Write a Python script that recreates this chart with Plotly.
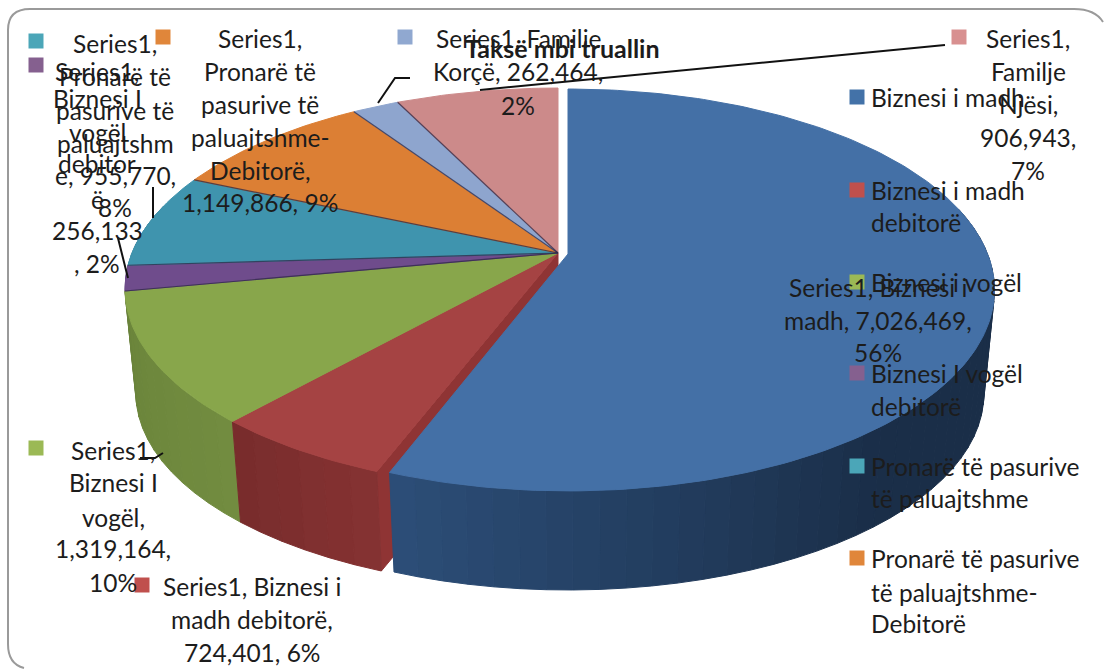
import math
import plotly.graph_objects as go

categories = ["Biznesi i madh", "Biznesi i madh debitorë", "Biznesi I vogël",
              "Biznesi I vogël debitorë", "Pronarë të pasurive të paluajtshme",
              "Pronarë të pasurive të paluajtshme-Debitorë", "Familje Korçë", "Familje Njësi"]
values = [7026469, 724401, 1319164, 256133, 955770, 1149866, 262464, 906943]
top_colors = ["#4470A6", "#A54343", "#88A64B", "#6F4C8C", "#3F94AE", "#DC7F34", "#8EA5CE", "#CC8A8A"]
wall_light = ["#2C4E78", "#853232", "#728C40", "#5A3C74", "#327A90", "#B8692A", "#7088AC", "#A87070"]
wall_dark = ["#1A2E48", "#782C2C", "#6A843A", "#5A3C74", "#327A90", "#B8692A", "#7088AC", "#A87070"]
key_colors = ["#4372A8", "#C0504D", "#9BB955", "#85608F", "#4BA6B8", "#E0863A", "#90A8D0", "#D89090"]

title_text = "Taksë mbi truallin"
TEXT = "#1C1C1C"
FONT = "Lato"
FS = 24.5

# centre x, line y positions, lines, key (x, y) or None, slice index for the key colour
data_labels = [
    (115, [43, 76, 110, 143, 175, 207], ["Series1,", "Pronarë të", "pasurive të", "paluajtshm", "e, 955,770,", "8%"], (36, 41), 4),
    (97, [71, 98, 132, 163, 199, 230, 263], ["Series1,", "Biznesi I", "vogël", "debitor", "ë", "256,133", ", 2%"], (36, 65), 3),
    (260, [38, 71, 104, 137, 170, 202], ["Series1,", "Pronarë të", "pasurive të", "paluajtshme-", "Debitorë,", "1,149,866, 9%"], (163, 37), 5),
    (518, [38, 71, 105], ["Series1, Familie", "Korçë, 262,464,", "2%"], (405, 37), 6),
    (1028, [38, 71, 104, 137, 170], ["Series1,", "Familje", "Njësi,", "906,943,", "7%"], (959, 37), 7),
    (878, [287, 320, 352], ["Series1, Biznesi i", "madh, 7,026,469,", "56%"], None, 0),
    (113, [450, 482, 517, 548, 582], ["Series1,", "Biznesi I", "vogël,", "1,319,164,", "10%"], (36, 448), 2),
    (252, [586, 619, 652], ["Series1, Biznesi i", "madh debitorë,", "724,401, 6%"], (142, 585), 1),
]
legend_entries = [
    (97, ["Biznesi i madh"], [97], 0),
    (190, ["Biznesi i madh", "debitorë"], [190, 222], 1),
    (282, ["Biznesi i vogël"], [282], 2),
    (373, ["Biznesi I vogël", "debitorë"], [373, 406], 3),
    (466, ["Pronarë të pasurive", "të paluajtshme"], [466, 498], 4),
    (558, ["Pronarë të pasurive", "të paluajtshme-", "Debitorë"], [558, 592, 623], 5),
]
leaders = [
    [(378, 103), (395, 78), (410, 78)],
    [(480, 90), (945, 45)],
    [(153, 187), (153, 218)],
    [(118, 238), (128, 278)],
    [(140, 458), (155, 458), (163, 453)],
]

# pie geometry in picture pixels (perspective-projected disc)
CX, CY = 558, 253
RX, RY, K = 426, 194.5, 0.179
DEPTH, SHRINK = 105, 0.975
BLUE_DX, BLUE_DY, BLUE_SX = 10, 1, 0.985


def pt(theta, level=0, sx=1.0, dx=0, dy=0):
    u, v = math.sin(theta), math.cos(theta)
    w = 1 + K * v
    x, y = sx * RX * u / w, -RY * v / w
    if level:
        x, y = x * SHRINK, y * SHRINK + DEPTH
    return CX + dx + x, CY + dy + y


def mix(a, b, t):
    ca = [int(a[i:i + 2], 16) for i in (1, 3, 5)]
    cb = [int(b[i:i + 2], 16) for i in (1, 3, 5)]
    return "#%02X%02X%02X" % tuple(round(p + (q - p) * t) for p, q in zip(ca, cb))


def poly(pts, color, name="", lw=1, linecolor=None):
    return go.Scatter(x=[p[0] for p in pts] + [pts[0][0]], y=[p[1] for p in pts] + [pts[0][1]],
                      mode="lines", fill="toself", fillcolor=color,
                      line=dict(color=linecolor or color, width=lw), name=name,
                      hoverinfo="name", showlegend=False)


total = sum(values)
edges = [0.0]
for v in values:
    edges.append(edges[-1] + v / total * 2 * math.pi)

fig = go.Figure()
offs = [(BLUE_SX, BLUE_DX, BLUE_DY) if i == 0 else (1.0, 0, 0) for i in range(len(values))]

# radial cut faces and outer walls, furthest slices first, blue last
for i in list(range(len(values) - 1, -1, -1)):
    a, b = edges[i], edges[i + 1]
    sx, dx, dy = offs[i]
    if i == 1:
        fig.add_trace(poly([(CX, CY), pt(a), pt(a, 1), (CX, CY + DEPTH)], "#8F3434", categories[i]))
    n = max(2, int((b - a) / math.radians(3)))
    for j in range(n):
        t0 = a + (b - a) * j / n
        t1 = a + (b - a) * (j + 1) / n
        mid = (t0 + t1) / 2
        if math.cos(mid) > 0.25:
            continue
        frac = (mid - a) / (b - a)
        if i == 0:
            col = mix(wall_dark[i], wall_light[i], max(0.0, (frac - 0.7) / 0.3))
        else:
            col = mix(wall_dark[i], wall_light[i], 1 - frac)
        fig.add_trace(poly([pt(t0, 0, sx, dx, dy), pt(t1, 0, sx, dx, dy),
                            pt(t1, 1, sx, dx, dy), pt(t0, 1, sx, dx, dy)], col, categories[i]))

# top faces, the pulled-out slice last
for i in list(range(1, len(values))) + [0]:
    a, b = edges[i], edges[i + 1]
    sx, dx, dy = offs[i]
    n = max(4, int((b - a) / math.radians(1)))
    arc = [pt(a + (b - a) * j / n, 0, sx, dx, dy) for j in range(n + 1)]
    fig.add_trace(poly([(CX + dx, CY + dy)] + arc, top_colors[i], categories[i]))
# separators between the smaller slices
for i in [3, 4, 5, 6, 7]:
    p = pt(edges[i])
    fig.add_trace(go.Scatter(x=[CX, p[0]], y=[CY, p[1]], mode="lines",
                             line=dict(color="rgba(45,40,70,0.75)", width=1.2),
                             hoverinfo="skip", showlegend=False))

shapes = [dict(type="path", xref="x", yref="y",
               path="M 8 30 Q 8 9 30 9 L 1074 9 Q 1095 9 1103 22 M 8 30 L 8 644 Q 8 664 24 668",
               line=dict(color="#9A9A9A", width=2), fillcolor="rgba(0,0,0,0)")]
for seg in leaders:
    path = "M " + " L ".join(f"{x} {y}" for x, y in seg)
    shapes.append(dict(type="path", xref="x", yref="y", path=path,
                       line=dict(color="#111111", width=2), fillcolor="rgba(0,0,0,0)"))


def key(x, y, idx):
    shapes.append(dict(type="rect", xref="x", yref="y", x0=x - 7.5, x1=x + 7.5, y0=y - 7.5, y1=y + 7.5,
                       fillcolor=key_colors[idx], line=dict(width=0)))


annotations = []


def txt(x, y, s, anchor="center", size=FS, bold=False):
    annotations.append(dict(x=x, y=y, xref="x", yref="y", text=f"<b>{s}</b>" if bold else s,
                            showarrow=False, xanchor=anchor, yanchor="middle",
                            font=dict(family=FONT, size=size, color=TEXT)))


for cx, ys, lines, k, idx in data_labels:
    for yy, s in zip(ys, lines):
        txt(cx, yy, s)
    if k:
        key(k[0], k[1], idx)
for ky, lines, ys, idx in legend_entries:
    key(857, ky, idx)
    for yy, s in zip(ys, lines):
        txt(869, yy, s, anchor="left")
txt(562, 48, title_text, size=25, bold=True)

axis = dict(visible=False, fixedrange=True)
fig.update_layout(width=1104, height=669, margin=dict(l=0, r=0, t=0, b=0),
                  paper_bgcolor="white", plot_bgcolor="white", showlegend=False,
                  xaxis=dict(range=[0, 1104], **axis), yaxis=dict(range=[669, 0], **axis),
                  shapes=shapes, annotations=annotations)
fig.write_html("out.html", config=dict(displayModeBar=False),
               post_script="document.body.style.margin='0';document.body.style.overflow='hidden';")
